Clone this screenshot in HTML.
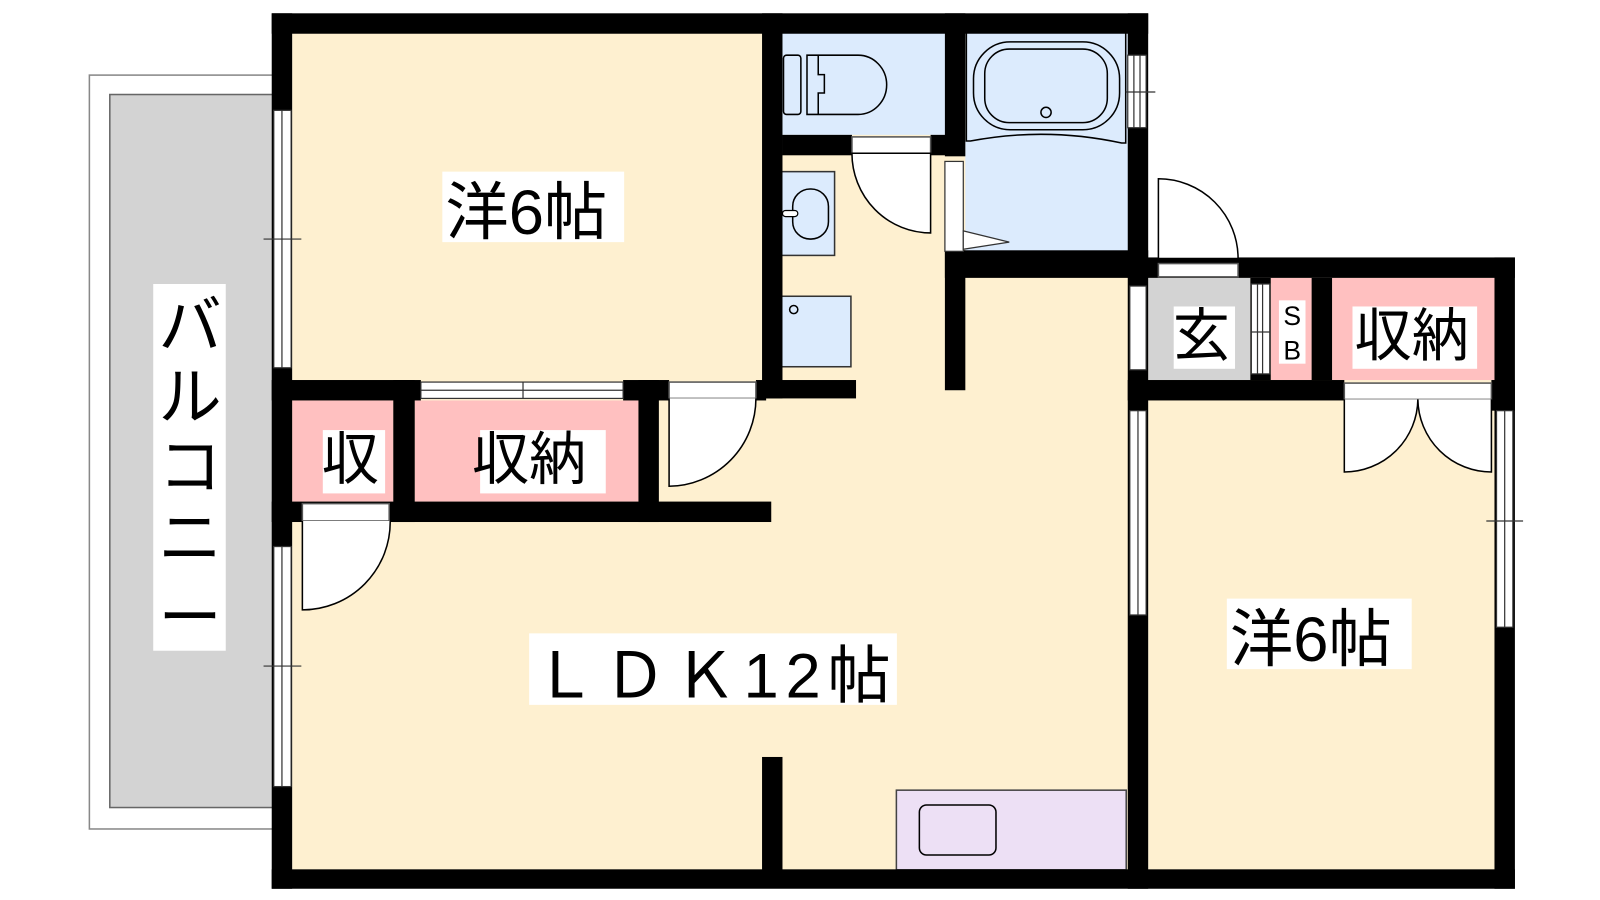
<!DOCTYPE html>
<html><head><meta charset="utf-8"><style>
html,body{margin:0;padding:0;background:#fff;width:1600px;height:900px;overflow:hidden}
text{font-family:"Liberation Sans","Noto Sans CJK JP",sans-serif;fill:#000}
</style></head><body>
<svg width="1600" height="900" viewBox="0 0 1566.3 881" xmlns="http://www.w3.org/2000/svg">
<!-- balcony -->
<rect x="87.5" y="73.5" width="190" height="738" fill="#fff" stroke="#888" stroke-width="1.5"/>
<rect x="107.5" y="92.5" width="170" height="698" fill="#d3d3d3" stroke="#666" stroke-width="1.5"/>
<rect x="150" y="278" width="71" height="359" fill="#fff"/>
<g font-size="62" text-anchor="middle">
<text x="186" y="340">バ</text><text x="186" y="410">ル</text><text x="186" y="478">コ</text><text x="186" y="548">ニ</text><text x="186" y="626">ー</text>
</g>
<!-- cream floor -->
<rect x="286" y="32" width="820" height="820" fill="#fef0d0"/>
<rect x="1124" y="272" width="340" height="580" fill="#fef0d0"/>
<!-- wet areas -->
<rect x="766" y="32" width="160" height="100" fill="#dcebfd"/>
<rect x="945" y="32" width="160" height="215" fill="#dcebfd"/>
<rect x="765" y="168" width="52" height="82" fill="#dcebfd" stroke="#333" stroke-width="1.5"/>
<rect x="765" y="290" width="68" height="69" fill="#dcebfd" stroke="#333" stroke-width="1.5"/>
<circle cx="777" cy="303" r="4" fill="none" stroke="#000" stroke-width="1.5"/>
<rect x="776" y="185" width="35" height="49" rx="17" fill="none" stroke="#000" stroke-width="1.5"/>
<rect x="766" y="206" width="15" height="6" rx="3" fill="#fff" stroke="#000" stroke-width="1.2"/>
<!-- toilet -->
<g fill="none" stroke="#000" stroke-width="1.5">
<rect x="767" y="54" width="17" height="58" rx="3"/>
<path d="M790 54 h50 a28 29 0 0 1 0 58 h-50 z"/>
<path d="M801 54 v19 h6 v18 h-6 v21"/>
</g>
<!-- bath -->
<g fill="none" stroke="#000" stroke-width="1.5">
<path d="M946 32 V138 H950 Q1024 124 1098 140 H1102 V32"/>
<rect x="953" y="41" width="143" height="86" rx="36"/>
<rect x="964" y="48" width="120" height="72" rx="24"/>
<circle cx="1024" cy="110" r="5"/>
</g>
<!-- storage pink -->
<rect x="286" y="392" width="99" height="99" fill="#ffc0c0"/>
<rect x="406" y="392" width="219" height="99" fill="#ffc0c0"/>
<rect x="1244" y="272" width="40" height="100" fill="#ffc0c0"/>
<rect x="1304" y="272" width="159" height="100" fill="#ffc0c0"/>
<rect x="1124" y="272" width="100" height="100" fill="#d3d3d3"/>
<!-- kitchen -->
<rect x="877.5" y="773.5" width="225" height="78" fill="#ede0f5" stroke="#444" stroke-width="1.5"/>
<rect x="900" y="788" width="75" height="49" rx="7" fill="none" stroke="#000" stroke-width="1.5"/>
<!-- walls -->
<g fill="#000">
<rect x="266" y="13" width="858" height="20"/>
<rect x="266" y="13" width="20" height="857"/>
<rect x="266" y="851" width="1217" height="19"/>
<rect x="1104" y="252" width="379" height="20"/>
<rect x="1463" y="252" width="20" height="618"/>
<rect x="1104" y="13" width="20" height="857"/>
<rect x="746" y="13" width="20" height="377"/>
<rect x="746" y="372" width="92" height="18"/>
<rect x="925" y="13" width="20" height="140"/>
<rect x="925" y="245" width="199" height="27"/>
<rect x="925" y="245" width="20" height="137"/>
<rect x="766" y="132" width="68" height="20"/>
<rect x="911" y="132" width="15" height="20"/>
<rect x="266" y="372" width="146" height="20"/>
<rect x="610" y="372" width="45" height="20"/>
<rect x="740" y="372" width="10" height="20"/>
<rect x="385" y="372" width="21" height="139"/>
<rect x="625" y="372" width="20" height="139"/>
<rect x="266" y="491" width="489" height="20"/>
<rect x="746" y="741" width="20" height="111"/>
<rect x="1104" y="372" width="212" height="20"/>
<rect x="1460" y="372" width="23" height="30"/>
<rect x="1224" y="272" width="20" height="100"/>
<rect x="1284" y="272" width="20" height="100"/>
</g>
<!-- windows -->
<g fill="#fff" stroke="#333" stroke-width="1.2">
<rect x="268" y="108" width="17" height="252"/><line x1="276" y1="108" x2="276" y2="360"/>
<line x1="258" y1="234" x2="295" y2="234"/>
<rect x="268" y="535" width="17" height="235"/><line x1="276" y1="535" x2="276" y2="770"/>
<line x1="258" y1="652" x2="295" y2="652"/>
<rect x="1104" y="54" width="18" height="71"/><line x1="1110" y1="54" x2="1110" y2="125"/><line x1="1116" y1="54" x2="1116" y2="125"/>
<line x1="1102" y1="90" x2="1131" y2="90"/>
<rect x="1106" y="280" width="16" height="82"/>
<rect x="1106" y="402" width="16" height="200"/><line x1="1114" y1="402" x2="1114" y2="602"/>
<rect x="1465" y="402" width="16" height="212"/><line x1="1473" y1="402" x2="1473" y2="614"/>
<line x1="1455" y1="510" x2="1491" y2="510"/>
<rect x="1225" y="278" width="18" height="88"/><line x1="1231" y1="278" x2="1231" y2="366"/><line x1="1236" y1="278" x2="1236" y2="366"/>
<line x1="1225" y1="325" x2="1243" y2="325"/>
<rect x="412" y="374" width="198" height="16"/><line x1="412" y1="382" x2="610" y2="382"/><line x1="512" y1="374" x2="512" y2="390"/>
<rect x="925" y="158" width="18" height="88"/>
<path d="M943 226 L988 237 L943 244 z"/>
</g>
<!-- doors -->
<g fill="#fff" stroke="#000" stroke-width="1.5">
<rect x="834" y="134" width="77" height="16" stroke="#555"/>
<path d="M834 150 A77 78 0 0 0 911 228 V150 z"/>
<rect x="655" y="374" width="85" height="16" stroke="#555"/>
<path d="M655 390 V476 A86 86 0 0 0 740 390"/>
<rect x="296" y="493" width="85" height="17" stroke="#555"/>
<path d="M296 510 V597 A86 86 0 0 0 382 510"/>
<rect x="1134" y="258" width="78" height="13" stroke="#555"/>
<path d="M1134 175 A78 78 0 0 1 1212 253 H1134 z"/>
<rect x="1316" y="375" width="144" height="16" stroke="#555"/>
<path d="M1316 391 V462 A72 72 0 0 0 1388 391"/>
<path d="M1460 391 V462 A72 72 0 0 1 1388 391"/>
</g>
<!-- labels -->
<g font-size="62">
<rect x="433" y="168" width="178" height="69" fill="#fff"/>
<text x="436" y="229">洋6帖</text>
<rect x="1201" y="586" width="181" height="69" fill="#fff"/>
<text x="1204" y="647">洋6帖</text>
<rect x="518" y="620" width="360" height="70" fill="#fff"/>
<text x="522" y="683" textLength="350">ＬＤＫ12帖</text>
<rect x="316" y="421" width="61" height="62" fill="#fff"/>
<text x="315" y="469" font-size="56">収</text>
<rect x="470" y="421" width="123" height="62" fill="#fff"/>
<text x="462" y="469" font-size="56">収納</text>
<rect x="1324" y="300" width="122" height="61" fill="#fff"/>
<text x="1326" y="348" font-size="56">収納</text>
<rect x="1149" y="300" width="60" height="61" fill="#fff"/>
<text x="1148" y="348" font-size="56">玄</text>
<rect x="1252" y="294" width="26" height="62" fill="#fff"/>
<text x="1265" y="318" font-size="26" text-anchor="middle">S</text>
<text x="1265" y="352" font-size="26" text-anchor="middle">B</text>
</g>
</svg>
</body></html>
